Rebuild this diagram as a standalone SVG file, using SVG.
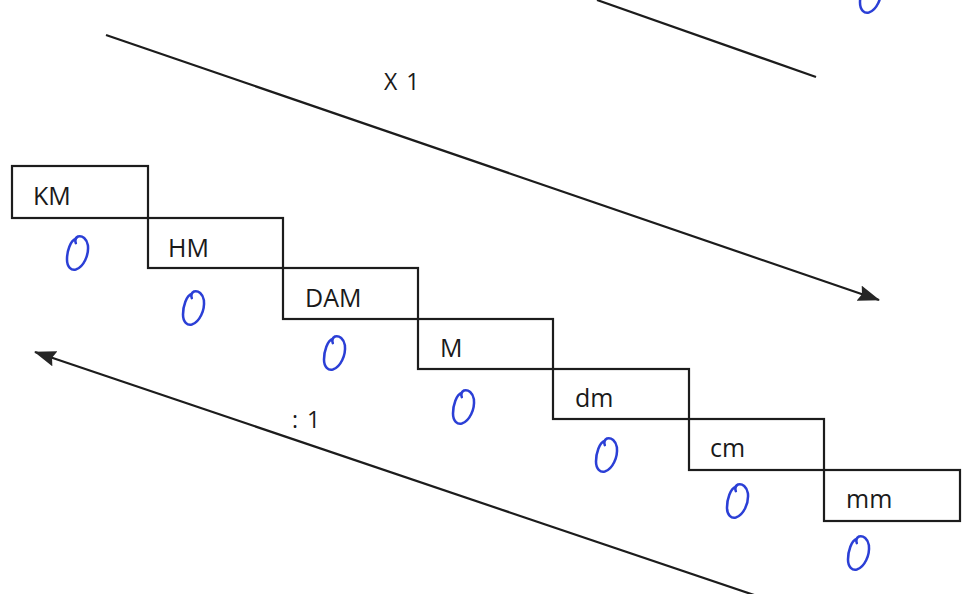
<svg xmlns="http://www.w3.org/2000/svg" width="970" height="594" viewBox="0 0 970 594">
  <style>
    .step rect { fill: none; stroke: #1c1c1c; stroke-width: 2.2; }
    .step text { font-family: "Open Sans", "Liberation Sans", sans-serif; font-size: 25px; fill: #1a1a1a; }
    .lbl { font-family: "Open Sans", "Liberation Sans", sans-serif; font-size: 23px; fill: #1a1a1a; letter-spacing: 1.5px; }
    .conn { stroke: #1c1c1c; stroke-width: 2.2; fill: none; }
    .zero { fill: none; stroke: #2b3fd6; stroke-width: 2.3; stroke-linecap: round; stroke-linejoin: round; }
  </style>
  <defs>
    <marker id="head" viewBox="0 0 22 16" refX="21" refY="8" markerWidth="22" markerHeight="16" markerUnits="userSpaceOnUse" orient="auto">
      <path d="M0,0 L22,8 L0,16 L3,8 Z" fill="#262626"/>
    </marker>
    <!-- handwritten zero: tilted oval with a small entry hook at the top -->
    <path id="zero" d="M-2,-13 C-7,-11 -10,-2 -10,6 C-10,13 -6,16 -2,15 C5,13 10,2 9,-7 C8,-13 4,-16 0,-15 C-2,-14 -3,-12 -2,-9"/>
  </defs>

  <rect width="970" height="594" fill="#ffffff"/>

  <g id="connectors">
    <line class="conn" x1="597" y1="0" x2="816" y2="77"/>
    <line class="conn" x1="106" y1="35" x2="879" y2="300" marker-end="url(#head)"/>
    <line class="conn" x1="760" y1="597" x2="35" y2="352" marker-end="url(#head)"/>
  </g>

  <text class="lbl" x="384" y="90">X 1</text>
  <text class="lbl" x="292" y="428">: 1</text>

  <g id="km" class="step">
    <rect x="12" y="166" width="136" height="52"/>
    <text x="33" y="205">KM</text>
  </g>
  <g id="hm" class="step">
    <rect x="148" y="218" width="135" height="50"/>
    <text x="168" y="257">HM</text>
  </g>
  <g id="dam" class="step">
    <rect x="283" y="268" width="135" height="51"/>
    <text x="305" y="307">DAM</text>
  </g>
  <g id="m" class="step">
    <rect x="418" y="319" width="135" height="50"/>
    <text x="440" y="357">M</text>
  </g>
  <g id="dm" class="step">
    <rect x="553" y="369" width="136" height="50"/>
    <text x="575" y="407">dm</text>
  </g>
  <g id="cm" class="step">
    <rect x="689" y="419" width="135" height="51"/>
    <text x="710" y="457">cm</text>
  </g>
  <g id="mm" class="step">
    <rect x="824" y="470" width="136" height="51"/>
    <text x="846" y="508">mm</text>
  </g>

  <g id="zeros">
    <use href="#zero" class="zero" transform="translate(871,-4) scale(1.1)"/>
    <use href="#zero" class="zero" transform="translate(78,253) scale(1.1)"/>
    <use href="#zero" class="zero" transform="translate(194,308) scale(1.1)"/>
    <use href="#zero" class="zero" transform="translate(335,353) scale(1.1)"/>
    <use href="#zero" class="zero" transform="translate(464,407) scale(1.1)"/>
    <use href="#zero" class="zero" transform="translate(607,455) scale(1.1)"/>
    <use href="#zero" class="zero" transform="translate(738,501) scale(1.1)"/>
    <use href="#zero" class="zero" transform="translate(859,553) scale(1.1)"/>
  </g>
</svg>
